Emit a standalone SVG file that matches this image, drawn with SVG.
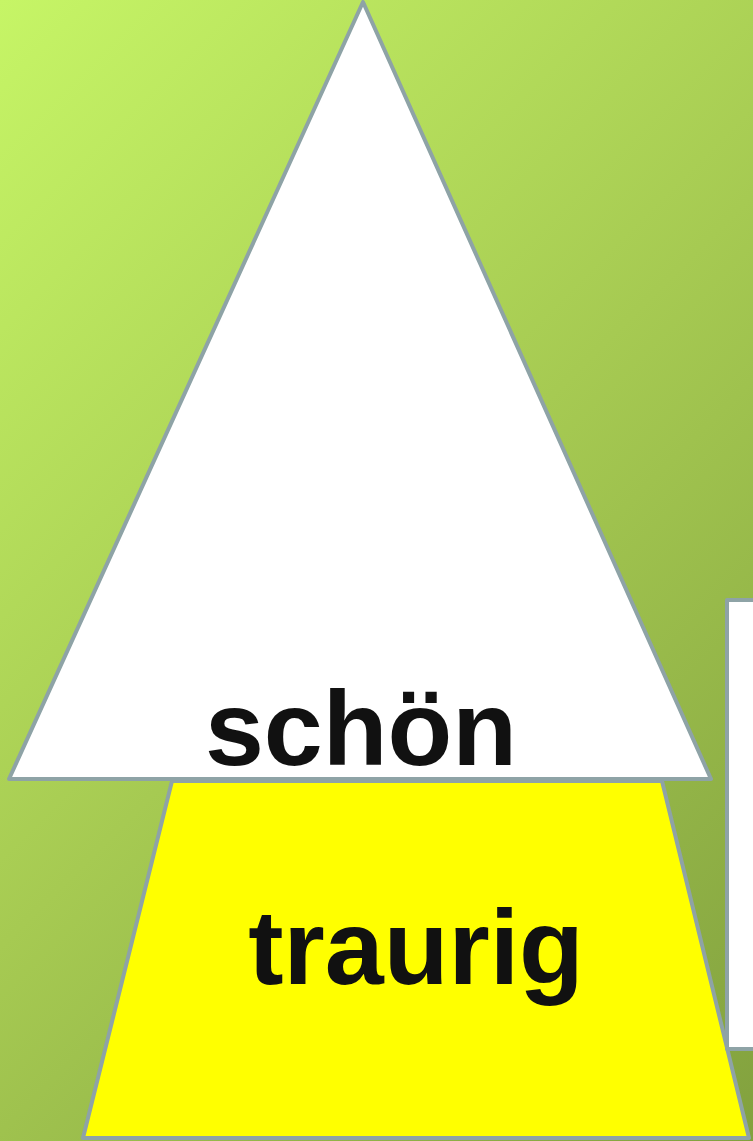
<svg xmlns="http://www.w3.org/2000/svg" width="753" height="1141" viewBox="0 0 753 1141">
  <defs>
    <linearGradient id="bg" gradientUnits="userSpaceOnUse" x1="0" y1="0" x2="947" y2="947">
      <stop offset="0" stop-color="#C6F566"/>
      <stop offset="0.5" stop-color="#A6CA52"/>
      <stop offset="1" stop-color="#82A13E"/>
    </linearGradient>
  </defs>
  <style>
    .shape { stroke: #8EA3A6; stroke-width: 4; stroke-linejoin: round; }
    .label { font-family: "Liberation Sans", Arial, sans-serif; font-weight: bold; font-size: 106px; fill: #111111; text-anchor: middle; }
  </style>
  <rect x="0" y="0" width="753" height="1141" fill="url(#bg)"/>
  <g id="trapezoid">
    <polygon class="shape" points="172,781 662,781 749,1138 83,1138" fill="#FFFF00"/>
    <text class="label" x="416" y="984">traurig</text>
  </g>
  <g id="box">
    <rect class="shape" x="727" y="600" width="40" height="449" fill="#FFFFFF"/>
  </g>
  <g id="triangle">
    <polygon class="shape" points="363,2 711,779 9,779" fill="#FFFFFF"/>
    <text class="label" x="361" y="765">schön</text>
  </g>
  <g id="connectors"></g>
</svg>
